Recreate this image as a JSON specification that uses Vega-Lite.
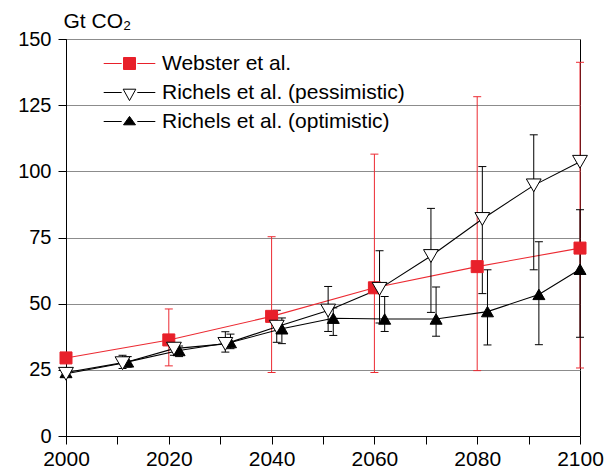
{
  "$schema": "https://vega.github.io/schema/vega-lite/v6.json",
  "autosize": {"type": "none"},
  "width": 514,
  "height": 397,
  "padding": {"left": 66, "top": 39, "right": 31, "bottom": 36},
  "background": "white",
  "config": {
    "font": "Liberation Sans",
    "view": {"stroke": "black", "strokeWidth": 1},
    "axis": {
      "domainColor": "black",
      "tickColor": "black",
      "labelColor": "black",
      "titleColor": "black",
      "labelFont": "Liberation Sans",
      "labelFontSize": 21,
      "tickSize": 8,
      "gridColor": "#8c8c8c",
      "gridOpacity": 1
    },
    "legend": {
      "padding": 0,
      "labelFont": "Liberation Sans",
      "labelFontSize": 21,
      "labelColor": "black",
      "labelOffset": 22,
      "labelLimit": 400,
      "symbolSize": 144,
      "rowPadding": 7,
      "symbolStrokeWidth": 1,
      "symbolOpacity": 1
    }
  },
  "data": {
    "values": [
      {"s": "Webster et al.", "x": 2000, "v": 29.5, "lo": null, "hi": null},
      {"s": "Webster et al.", "x": 2020, "v": 36.3, "lo": 26.5, "hi": 48},
      {"s": "Webster et al.", "x": 2040, "v": 45.2, "lo": 24, "hi": 75.3},
      {"s": "Webster et al.", "x": 2060, "v": 56, "lo": 24, "hi": 106.5},
      {"s": "Webster et al.", "x": 2080, "v": 64, "lo": 24.7, "hi": 128.2},
      {"s": "Webster et al.", "x": 2100, "v": 71, "lo": 25.7, "hi": 141.2},
      {"s": "Richels et al. (pessimistic)", "x": 2000, "v": 23.5, "lo": null, "hi": null},
      {"s": "Richels et al. (pessimistic)", "x": 2011, "v": 27.5, "lo": 25.5, "hi": 30.5},
      {"s": "Richels et al. (pessimistic)", "x": 2021, "v": 33, "lo": 30.5, "hi": 34.5},
      {"s": "Richels et al. (pessimistic)", "x": 2031, "v": 34.8, "lo": 31.7, "hi": 39.4},
      {"s": "Richels et al. (pessimistic)", "x": 2041, "v": 41.3, "lo": 35.4, "hi": 47.5},
      {"s": "Richels et al. (pessimistic)", "x": 2051, "v": 47.4, "lo": 39.5, "hi": 56.5},
      {"s": "Richels et al. (pessimistic)", "x": 2061, "v": 55.6, "lo": 42.7, "hi": 70},
      {"s": "Richels et al. (pessimistic)", "x": 2071, "v": 68, "lo": 46.7, "hi": 86},
      {"s": "Richels et al. (pessimistic)", "x": 2081, "v": 82, "lo": 53.8, "hi": 101.8},
      {"s": "Richels et al. (pessimistic)", "x": 2091, "v": 94.7, "lo": 62.8, "hi": 113.8},
      {"s": "Richels et al. (pessimistic)", "x": 2100, "v": 103.6, "lo": null, "hi": null},
      {"s": "Richels et al. (optimistic)", "x": 2000, "v": 24, "lo": null, "hi": null},
      {"s": "Richels et al. (optimistic)", "x": 2012, "v": 28, "lo": 26, "hi": 30},
      {"s": "Richels et al. (optimistic)", "x": 2022, "v": 32.3, "lo": 30, "hi": 34},
      {"s": "Richels et al. (optimistic)", "x": 2032, "v": 35.3, "lo": 33, "hi": 38.5},
      {"s": "Richels et al. (optimistic)", "x": 2042, "v": 40.5, "lo": 34.9, "hi": 44.6},
      {"s": "Richels et al. (optimistic)", "x": 2052, "v": 44.5, "lo": 38, "hi": 48.4},
      {"s": "Richels et al. (optimistic)", "x": 2062, "v": 44.2, "lo": 39.5, "hi": 52.7},
      {"s": "Richels et al. (optimistic)", "x": 2072, "v": 44.2, "lo": 37.7, "hi": 56.3},
      {"s": "Richels et al. (optimistic)", "x": 2082, "v": 47, "lo": 34.4, "hi": 62.8},
      {"s": "Richels et al. (optimistic)", "x": 2092, "v": 53.5, "lo": 34.5, "hi": 73.4},
      {"s": "Richels et al. (optimistic)", "x": 2100, "v": 63, "lo": 37.3, "hi": 85.5}
    ]
  },
  "encoding": {
    "x": {
      "field": "x",
      "type": "quantitative",
      "scale": {"domain": [2000, 2100], "nice": false},
      "axis": {
        "values": [2000, 2010, 2020, 2030, 2040, 2050, 2060, 2070, 2080, 2090, 2100],
        "labelExpr": "datum.value % 20 == 0 ? datum.label : ''",
        "format": "d",
        "grid": false,
        "title": null,
        "labelPadding": 4,
        "labelFlush": false
      }
    }
  },
  "layer": [
    {
      "transform": [{"filter": "datum.lo != null && datum.s == 'Webster et al.'"}],
      "mark": {"type": "rule", "strokeWidth": 1, "color": "#ec2a32"},
      "encoding": {
        "y": {"field": "lo", "type": "quantitative", "scale": {"domain": [0, 150], "nice": false},
          "axis": {
            "values": [0, 25, 50, 75, 100, 125, 150],
            "grid": true,
            "title": "Gt CO₂",
            "titleAngle": 0,
            "titleAlign": "left",
            "titleBaseline": "alphabetic",
            "titleX": -3,
            "titleY": -12,
            "titleFontSize": 21,
            "titleFontWeight": "normal",
            "titleFont": "Liberation Sans",
            "labelFontSize": 20,
            "labelPadding": 7
          }},
        "y2": {"field": "hi"}
      }
    },
    {
      "transform": [
        {"filter": "datum.lo != null && datum.s == 'Webster et al.'"},
        {"fold": ["lo", "hi"], "as": ["k", "val"]}
      ],
      "mark": {"type": "tick", "orient": "horizontal", "size": 8, "thickness": 1, "opacity": 1, "color": "#ec2a32"},
      "encoding": {
        "y": {"field": "val", "type": "quantitative", "title": "Gt CO₂"}
      }
    },
    {
      "transform": [{"filter": "datum.s == 'Webster et al.'"}],
      "mark": {"type": "line", "strokeWidth": 1.1, "color": "#ec2a32"},
      "encoding": {
        "y": {"field": "v", "type": "quantitative", "title": "Gt CO₂"},
        "order": {"field": "x", "type": "quantitative"}
      }
    },
    {
      "transform": [{"filter": "datum.lo != null && datum.s != 'Webster et al.'"}],
      "mark": {"type": "rule", "strokeWidth": 1, "color": "black"},
      "encoding": {
        "y": {"field": "lo", "type": "quantitative", "title": "Gt CO₂"},
        "y2": {"field": "hi"}
      }
    },
    {
      "transform": [
        {"filter": "datum.lo != null && datum.s != 'Webster et al.'"},
        {"fold": ["lo", "hi"], "as": ["k", "val"]}
      ],
      "mark": {"type": "tick", "orient": "horizontal", "size": 8, "thickness": 1, "opacity": 1, "color": "black"},
      "encoding": {
        "y": {"field": "val", "type": "quantitative", "title": "Gt CO₂"}
      }
    },
    {
      "transform": [{"filter": "datum.s != 'Webster et al.'"}],
      "mark": {"type": "line", "strokeWidth": 1.1, "color": "black"},
      "encoding": {
        "y": {"field": "v", "type": "quantitative", "title": "Gt CO₂"},
        "detail": {"field": "s", "type": "nominal"},
        "order": {"field": "x", "type": "quantitative"}
      }
    },
    {
      "transform": [{"filter": "datum.s == 'Webster et al.'"}],
      "mark": {"type": "point", "shape": "square", "size": 144, "filled": true, "opacity": 1, "fill": "#e8202a", "stroke": "#e8202a", "strokeWidth": 1},
      "encoding": {
        "y": {"field": "v", "type": "quantitative", "title": "Gt CO₂"}
      }
    },
    {
      "transform": [{"filter": "datum.s == 'Richels et al. (optimistic)'"}],
      "mark": {"type": "point", "shape": "triangle-up", "size": 144, "filled": true, "opacity": 1, "fill": "black", "stroke": "black", "strokeWidth": 1},
      "encoding": {
        "y": {"field": "v", "type": "quantitative", "title": "Gt CO₂"}
      }
    },
    {
      "transform": [{"filter": "datum.s == 'Richels et al. (pessimistic)'"}],
      "mark": {"type": "point", "shape": "triangle-down", "size": 220, "filled": true, "opacity": 1, "fill": "white", "stroke": "black", "strokeWidth": 1},
      "encoding": {
        "y": {"field": "v", "type": "quantitative", "title": "Gt CO₂"}
      }
    },
    {
      "transform": [{"filter": "datum.x < 0"}],
      "mark": {"type": "point", "filled": true, "opacity": 1, "strokeWidth": 1},
      "encoding": {
        "y": {"field": "v", "type": "quantitative", "title": "Gt CO₂"},
        "shape": {
          "field": "s", "type": "nominal",
          "scale": {"domain": ["Webster et al.", "Richels et al. (pessimistic)", "Richels et al. (optimistic)"],
            "range": ["M-4.3,0H-1.3M1.3,0H4.3M-1,-1H1V1H-1Z", "M-4.3,0H-1.3M1.3,0H4.3M-1.05,-0.55L1.05,-0.55L0,1.35Z", "M-4.3,0H-1.3M1.3,0H4.3M0,-0.85L1,0.55L-1,0.55Z"]},
          "legend": {"title": null, "orient": "none", "legendX": 53, "legendY": 14}
        },
        "fill": {
          "field": "s", "type": "nominal",
          "scale": {"domain": ["Webster et al.", "Richels et al. (pessimistic)", "Richels et al. (optimistic)"], "range": ["#e8202a", "white", "black"]},
          "legend": {"title": null, "orient": "none", "legendX": 53, "legendY": 14}
        },
        "stroke": {
          "field": "s", "type": "nominal",
          "scale": {"domain": ["Webster et al.", "Richels et al. (pessimistic)", "Richels et al. (optimistic)"], "range": ["#e8202a", "black", "black"]},
          "legend": {"title": null, "orient": "none", "legendX": 53, "legendY": 14}
        }
      }
    }
  ]
}
